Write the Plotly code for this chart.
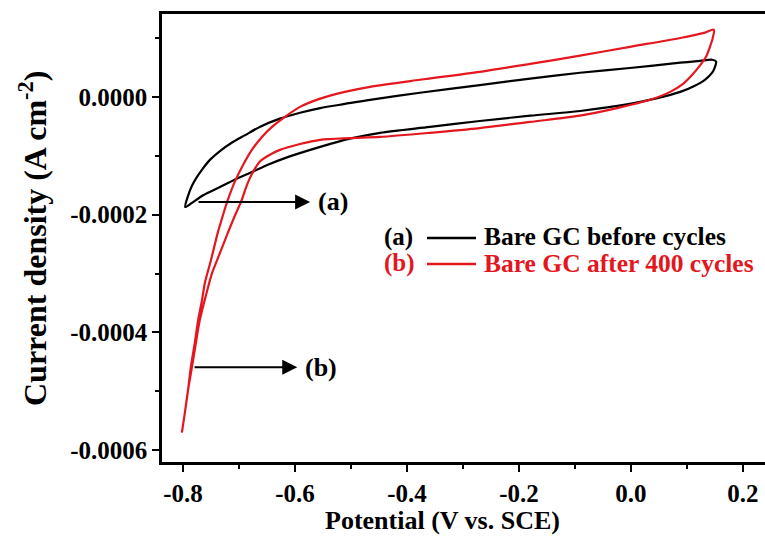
import plotly.graph_objects as go

# Cyclic voltammograms of a bare glassy-carbon electrode
# potential in V vs. SCE, current density in A cm^-2 (each trace is one closed loop:
# forward sweep from -0.8 V to +0.15 V, then the return sweep)
before_potential = [-0.796, -0.791, -0.784, -0.775, -0.764, -0.752, -0.734, -0.713, -0.689, -0.663,
                    -0.627, -0.591, -0.555, -0.511, -0.466, -0.377, -0.270, -0.180, -0.091, -0.002,
                    0.088, 0.123, 0.145, 0.152,
                    0.150, 0.145, 0.132, 0.114, 0.088, 0.043, -0.002, -0.091, -0.180, -0.270,
                    -0.359, -0.448, -0.502, -0.555, -0.618, -0.645, -0.680, -0.704, -0.734, -0.764,
                    -0.784, -0.796]
before_current = [-1.87e-4, -1.68e-4, -1.51e-4, -1.36e-4, -1.21e-4, -1.07e-4, -0.92e-4, -0.78e-4, -0.65e-4, -0.51e-4,
                  -0.37e-4, -0.27e-4, -0.19e-4, -0.12e-4, -0.05e-4, 0.07e-4, 0.20e-4, 0.31e-4, 0.41e-4, 0.49e-4,
                  0.58e-4, 0.61e-4, 0.63e-4, 0.60e-4,
                  0.51e-4, 0.41e-4, 0.29e-4, 0.19e-4, 0.085e-4, -0.03e-4, -0.12e-4, -0.24e-4, -0.32e-4, -0.41e-4,
                  -0.51e-4, -0.61e-4, -0.71e-4, -0.85e-4, -1.04e-4, -1.14e-4, -1.29e-4, -1.39e-4, -1.53e-4, -1.67e-4,
                  -1.80e-4, -1.87e-4]

after_potential = [-0.802, -0.796, -0.791, -0.786, -0.779, -0.773, -0.766, -0.761, -0.750, -0.738,
                   -0.729, -0.720, -0.707, -0.693, -0.677, -0.659, -0.641, -0.621, -0.591, -0.555,
                   -0.511, -0.466, -0.377, -0.270, -0.180, -0.091, -0.002, 0.088, 0.132, 0.148,
                   0.146, 0.141, 0.134, 0.123, 0.109, 0.093, 0.070, 0.034, -0.029, -0.091,
                   -0.180, -0.270, -0.359, -0.448, -0.502, -0.555, -0.591, -0.627, -0.648, -0.663,
                   -0.673, -0.682, -0.689, -0.695, -0.707, -0.720, -0.734, -0.748, -0.759, -0.770,
                   -0.777, -0.784, -0.791, -0.796, -0.802]
after_current = [-5.70e-4, -5.32e-4, -4.98e-4, -4.59e-4, -4.18e-4, -3.79e-4, -3.45e-4, -3.16e-4, -2.77e-4, -2.31e-4,
                 -2.02e-4, -1.75e-4, -1.43e-4, -1.16e-4, -0.90e-4, -0.68e-4, -0.51e-4, -0.36e-4, -0.17e-4, -0.03e-4,
                 0.085e-4, 0.17e-4, 0.29e-4, 0.425e-4, 0.56e-4, 0.70e-4, 0.85e-4, 1.00e-4, 1.09e-4, 1.14e-4,
                 1.00e-4, 0.85e-4, 0.68e-4, 0.53e-4, 0.37e-4, 0.22e-4, 0.085e-4, -0.05e-4, -0.20e-4, -0.32e-4,
                 -0.425e-4, -0.53e-4, -0.61e-4, -0.68e-4, -0.70e-4, -0.73e-4, -0.80e-4, -0.90e-4, -1.00e-4, -1.10e-4,
                 -1.24e-4, -1.41e-4, -1.58e-4, -1.75e-4, -2.01e-4, -2.31e-4, -2.65e-4, -2.99e-4, -3.37e-4, -3.79e-4,
                 -4.18e-4, -4.59e-4, -4.98e-4, -5.32e-4, -5.70e-4]

x_tick_values = [-0.8, -0.6, -0.4, -0.2, 0.0, 0.2]
x_tick_labels = ["-0.8", "-0.6", "-0.4", "-0.2", "0.0", "0.2"]
y_tick_values = [0.0, -0.0002, -0.0004, -0.0006]
y_tick_labels = ["0.0000", "-0.0002", "-0.0004", "-0.0006"]

# arrow pointers: (start potential, current, end potential, label)
pointer_a = (-0.775, -1.785e-4, -0.573, "(a)")
pointer_b = (-0.782, -4.59e-4, -0.596, "(b)")

legend_labels = ["(a)", "(b)"]
legend_names = ["Bare GC before cycles", "Bare GC after 400 cycles"]

BLACK = "#000000"
RED = "rgb(228,22,30)"
FONT = "Liberation Serif"

fig = go.Figure()
fig.add_trace(go.Scatter(x=before_potential, y=before_current, mode="lines",
                         line=dict(color=BLACK, width=2.2, shape="spline", smoothing=0.8),
                         showlegend=False, hoverinfo="skip"))
fig.add_trace(go.Scatter(x=after_potential, y=after_current, mode="lines",
                         line=dict(color=RED, width=2.2, shape="spline", smoothing=0.8),
                         showlegend=False, hoverinfo="skip"))

annotations = []
for x0, y0, x1, label in (pointer_a, pointer_b):
    annotations.append(dict(x=x1, y=y0, ax=x0, ay=y0, xref="x", yref="y", axref="x", ayref="y",
                            text="", showarrow=True, arrowhead=2, arrowsize=1.5,
                            arrowwidth=2, arrowcolor=BLACK))
    annotations.append(dict(x=x1 + 0.010, y=y0, xref="x", yref="y", text=f"<b>{label}</b>",
                            showarrow=False, xanchor="left", yanchor="middle",
                            font=dict(family=FONT, size=26, color=BLACK)))

W, H, L, T, B = 765, 536, 162, 14, 74
pw, ph = W - L, H - T - B


def px_x(p):
    return (p - L) / pw


def px_y(p):
    return (H - B - p) / ph


# hand-built legend: label, line sample, name
legend_rows = [(legend_labels[0], legend_names[0], BLACK, 237),
               (legend_labels[1], legend_names[1], RED, 263)]
shapes = []
for lab, name, col, yy in legend_rows:
    annotations.append(dict(x=px_x(382), y=px_y(yy), xref="paper", yref="paper",
                            text=f"<b>{lab}</b>", showarrow=False, xanchor="left", yanchor="middle",
                            font=dict(family=FONT, size=25, color=col)))
    annotations.append(dict(x=px_x(482), y=px_y(yy), xref="paper", yref="paper",
                            text=f"<b>{name}</b>", showarrow=False, xanchor="left", yanchor="middle",
                            font=dict(family=FONT, size=25.5, color=col)))
    shapes.append(dict(type="line", xref="paper", yref="paper",
                       x0=px_x(427), x1=px_x(476), y0=px_y(yy + 1), y1=px_y(yy + 1),
                       line=dict(color=col, width=2.5)))

# axis titles
annotations.append(dict(x=px_x(442), y=px_y(520), xref="paper", yref="paper",
                        text="<b>Potential (V vs. SCE)</b>", showarrow=False,
                        xanchor="center", yanchor="middle",
                        font=dict(family=FONT, size=26, color=BLACK)))
annotations.append(dict(x=px_x(33), y=px_y(239), xref="paper", yref="paper",
                        text="<b>Current density (A cm<sup>-2</sup>)</b>", showarrow=False,
                        textangle=-90, xanchor="center", yanchor="middle",
                        font=dict(family=FONT, size=32, color=BLACK)))

axis_common = dict(showgrid=False, zeroline=False, showline=True, linecolor=BLACK, linewidth=2.5,
                   ticks="outside", ticklen=7, tickwidth=2, tickcolor=BLACK,
                   tickfont=dict(family=FONT, size=25, color=BLACK, weight="bold"))

fig.update_layout(
    width=W, height=H,
    margin=dict(l=L, r=0, t=T, b=B, autoexpand=False),
    paper_bgcolor="white", plot_bgcolor="white",
    xaxis=dict(range=[-0.8375, 0.2393], tickmode="array", tickvals=x_tick_values,
               ticktext=x_tick_labels, mirror=True,
               minor=dict(dtick=0.1, tick0=0, ticklen=4, tickwidth=2, tickcolor=BLACK, ticks="outside"),
               **axis_common),
    yaxis=dict(range=[-0.000620, 0.0001407], tickmode="array", tickvals=y_tick_values,
               ticktext=y_tick_labels, mirror=False,
               minor=dict(dtick=0.0001, tick0=0, ticklen=4, tickwidth=2, tickcolor=BLACK, ticks="outside"),
               **axis_common),
    annotations=annotations,
    shapes=shapes,
)

fig.write_html("out.html")
